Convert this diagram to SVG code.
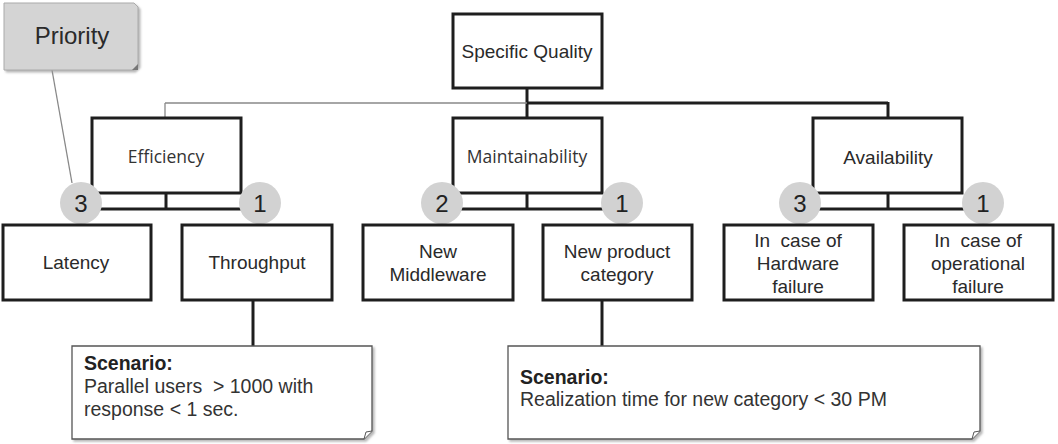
<svg xmlns="http://www.w3.org/2000/svg" width="1058" height="444" viewBox="0 0 1058 444">
<defs>
<style>
.box{fill:#fff;stroke:#1e1e1e;stroke-width:3}
.t{font-family:"Liberation Sans",Arial,sans-serif;font-size:19px;fill:#2a2a2a;text-anchor:middle}
.tc{font-family:"Open Sans","Noto Sans",sans-serif;font-size:17.5px;fill:#333;text-anchor:middle}
.ln{stroke:#1e1e1e;stroke-width:3;fill:none}
.thin{stroke:#888;stroke-width:1.3;fill:none}
.circ{fill:#d2d2d2}
.num{font-family:"Liberation Sans",Arial,sans-serif;font-size:24px;fill:#222;text-anchor:middle}
.note{fill:#fff;stroke:#555;stroke-width:1.3}
.ns{font-family:"Liberation Sans",Arial,sans-serif;font-size:19.5px;fill:#333}
.nb{font-weight:bold;fill:#222}
</style>
<filter id="sh" x="-5%" y="-5%" width="115%" height="115%">
<feDropShadow dx="2" dy="2" stdDeviation="1" flood-color="#999" flood-opacity="0.7"/>
</filter>
</defs>

<g id="connectors">
<line class="thin" x1="52" y1="70" x2="72" y2="183"/>
<line class="ln" x1="527" y1="88" x2="527" y2="118"/>
<line class="thin" x1="165" y1="103" x2="527" y2="103"/>
<line class="thin" x1="165" y1="103" x2="165" y2="118"/>
<line class="ln" x1="527" y1="103" x2="888" y2="103"/>
<line class="ln" x1="888" y1="102" x2="888" y2="118"/>
<line class="ln" x1="166" y1="193" x2="166" y2="209"/>
<line class="ln" x1="81" y1="209" x2="260" y2="209"/>
<line class="ln" x1="527" y1="193" x2="527" y2="209"/>
<line class="ln" x1="442" y1="209" x2="622" y2="209"/>
<line class="ln" x1="888" y1="193" x2="888" y2="209"/>
<line class="ln" x1="800" y1="209" x2="983" y2="209"/>
<line class="ln" x1="253" y1="300" x2="253" y2="346"/>
<line class="ln" x1="602" y1="300" x2="602" y2="346"/>
</g>

<g id="priority">
<path d="M4,3 H134 L138,7 V66 L134,70 H4 Z" fill="#d4d4d4" stroke="#aaa" stroke-width="1" filter="url(#sh)"/>
<path d="M132,70 L138,64 L138,70 Z" fill="#777"/>
<text class="t" x="72" y="44" style="font-size:24px">Priority</text>
</g>

<g id="specific-quality">
<rect class="box" x="453" y="14" width="149" height="74"/>
<text class="t" x="527" y="58">Specific Quality</text>
</g>

<g id="efficiency">
<rect class="box" x="92" y="118" width="149" height="75"/>
<text class="tc" x="166" y="163">Efficiency</text>
</g>
<g id="maintainability">
<rect class="box" x="453" y="118" width="149" height="75"/>
<text class="tc" x="527" y="163">Maintainability</text>
</g>
<g id="availability">
<rect class="box" x="813" y="118" width="149" height="75"/>
<text class="t" x="888" y="164">Availability</text>
</g>

<g id="p-latency"><circle class="circ" cx="81" cy="203" r="21"/><text class="num" x="81" y="212">3</text></g>
<g id="p-throughput"><circle class="circ" cx="260" cy="203" r="21"/><text class="num" x="260" y="212">1</text></g>
<g id="p-middleware"><circle class="circ" cx="442" cy="203" r="21"/><text class="num" x="442" y="212">2</text></g>
<g id="p-product"><circle class="circ" cx="622" cy="203" r="21"/><text class="num" x="622" y="212">1</text></g>
<g id="p-hardware"><circle class="circ" cx="800" cy="203" r="21"/><text class="num" x="800" y="212">3</text></g>
<g id="p-operational"><circle class="circ" cx="983" cy="203" r="21"/><text class="num" x="983" y="212">1</text></g>

<g id="latency">
<rect class="box" x="3" y="225" width="148" height="75"/>
<text class="t" x="76" y="269">Latency</text>
</g>
<g id="throughput">
<rect class="box" x="182" y="225" width="150" height="75"/>
<text class="t" x="257" y="269">Throughput</text>
</g>
<g id="new-middleware">
<rect class="box" x="363" y="225" width="150" height="75"/>
<text class="t" x="438" y="258">New</text>
<text class="t" x="438" y="281">Middleware</text>
</g>
<g id="new-product-category">
<rect class="box" x="543" y="225" width="149" height="75"/>
<text class="t" x="617" y="258">New product</text>
<text class="t" x="617" y="281">category</text>
</g>
<g id="hardware-failure">
<rect class="box" x="724" y="225" width="149" height="75"/>
<text class="t" x="798" y="247" xml:space="preserve">In  case of</text>
<text class="t" x="798" y="270">Hardware</text>
<text class="t" x="798" y="293">failure</text>
</g>
<g id="operational-failure">
<rect class="box" x="904" y="225" width="149" height="75"/>
<text class="t" x="978" y="247" xml:space="preserve">In  case of</text>
<text class="t" x="978" y="270">operational</text>
<text class="t" x="978" y="293">failure</text>
</g>

<g id="scenario-throughput">
<path class="note" d="M72,346 H372 V431 L364,439 H72 Z" filter="url(#sh)"/>
<path d="M364,439 L366,432 L372,431" fill="#fff" stroke="#555" stroke-width="1"/>
<text class="ns" x="84" y="370"><tspan class="nb">Scenario:</tspan></text>
<text class="ns" x="84" y="393" xml:space="preserve">Parallel users  &gt; 1000 with</text>
<text class="ns" x="84" y="416">response &lt; 1 sec.</text>
</g>

<g id="scenario-product">
<path class="note" d="M508,346 H980 V431 L972,439 H508 Z" filter="url(#sh)"/>
<path d="M972,439 L974,432 L980,431" fill="#fff" stroke="#555" stroke-width="1"/>
<text class="ns" x="520" y="384"><tspan class="nb">Scenario:</tspan></text>
<text class="ns" x="520" y="406">Realization time for new category &lt; 30 PM</text>
</g>
</svg>
